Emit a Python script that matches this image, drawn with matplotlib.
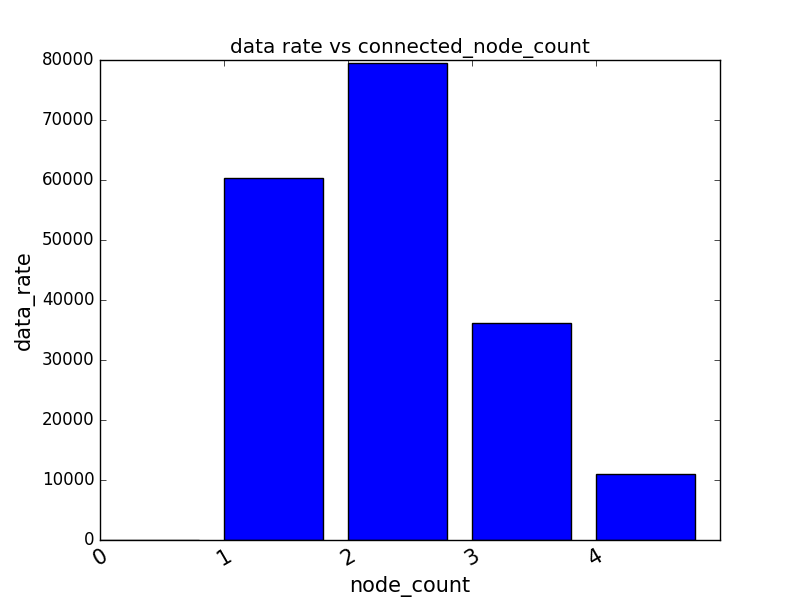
import numpy as np
import matplotlib
matplotlib.use('Agg')
import matplotlib.pyplot as plt

plt.style.use('classic')

# данные
node_count = [0, 1, 2, 3, 4]
data_rate = [0, 60300, 79500, 36150, 11000]

fig = plt.figure(figsize=(8, 6), dpi=100)
ax = fig.add_subplot(111)
ax.bar(node_count, data_rate, width=0.8, align='edge', color='b')
ax.set_xlim(0, 5)
ax.set_ylim(0, 80000)
ax.set_xticks(node_count)
plt.xticks(rotation=30, ha='center', fontsize=15)
plt.yticks(fontsize=12)
ax.set_xlabel('node_count', fontsize=15)
ax.set_ylabel('data_rate', fontsize=15)
ax.set_title('data rate vs connected_node_count', fontsize=14.4)

fig.savefig('out.png', dpi=100)
